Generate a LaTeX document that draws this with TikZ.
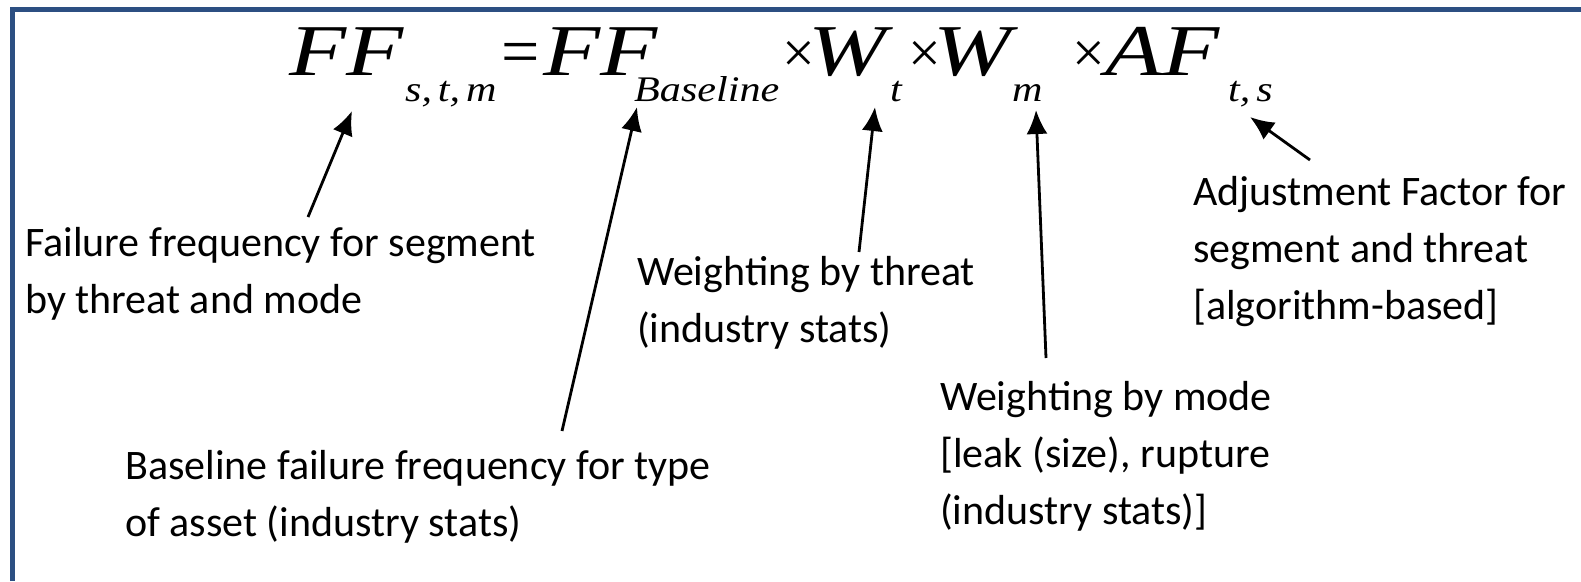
\documentclass[tikz,border=0pt]{standalone}
\usepackage{fontspec}
\usepackage{graphicx}
\setmainfont{Carlito}
\newfontfamily\eqfont{Liberation Serif}
\usetikzlibrary{arrows.meta}
\definecolor{framecol}{RGB}{44,79,130}
\newcommand{\bigit}[1]{\scalebox{1.28}[1]{#1}}
\newcommand{\subit}[1]{\scalebox{1.17}[1]{#1}}
\begin{document}
\begin{tikzpicture}[x=1pt,y=-1pt,
  lbl/.style={anchor=base west, inner sep=0pt, align=left, font=\fontsize{42}{57}\selectfont},
  eqbig/.style={anchor=base west, inner sep=0pt, font=\eqfont\itshape\fontsize{73}{73}\selectfont},
  eqsub/.style={anchor=base west, inner sep=0pt, font=\eqfont\itshape\fontsize{36}{36}\selectfont},
  eqop/.style={anchor=base west, inner sep=0pt, font=\eqfont\fontsize{68}{68}\selectfont},
  eqtimes/.style={anchor=base west, inner sep=0pt, font=\eqfont\fontsize{58}{58}\selectfont},
  ptr/.style={line width=2.8pt, -{Latex[length=24pt,width=21pt]}},
]
\useasboundingbox (0,0) rectangle (1581,581);
\fill[white] (0,0) rectangle (1581,581);
\draw[framecol, line width=5pt] (12.5,581) -- (12.5,9) -- (1581,9);
% equation
\node[eqbig] (ff1) at (289,75) {\bigit{FF}};
\node[eqsub] (s1) at (405,101) {\subit{s,\hspace{5pt}t,\hspace{5pt}m}};
\node[eqop] (eq) at (501,74) {=};
\node[eqbig] (ff2) at (543,75) {\bigit{FF}};
\node[eqsub] (s2) at (634,101) {\subit{Baseline}};
\node[eqtimes] (x1) at (782,72) {×};
\node[eqbig] (w1) at (808,75) {\bigit{W}};
\node[eqsub] (s3) at (890,101) {\subit{t}};
\node[eqtimes] (x2) at (908,72) {×};
\node[eqbig] (w2) at (933,75) {\bigit{W}};
\node[eqsub] (s4) at (1012,101) {\subit{m}};
\node[eqtimes] (x3) at (1072,72) {×};
\node[eqbig] (af) at (1105,75) {\bigit{AF}};
\node[eqsub] (s5) at (1228,101) {\subit{t,\hspace{5pt}s}};
% labels (anchor = baseline of last line)
\node[lbl] (l1) at (25,313) {Failure frequency for segment\\by threat and mode};
\node[lbl] (l2) at (125,536) {Baseline failure frequency for type\\of asset (industry stats)};
\node[lbl] (l3) at (637,342) {Weighting by threat\\(industry stats)};
\node[lbl] (l4) at (940,524) {Weighting by mode\\{[}leak (size), rupture\\(industry stats)]};
\node[lbl] (l5) at (1193,319) {Adjustment Factor for\\segment and threat\\{[}algorithm-based]};
% arrows
\coordinate (a1t) at (308,217); \coordinate (a1h) at (352,111);
\coordinate (a2t) at (562,431); \coordinate (a2h) at (637,107);
\coordinate (a3t) at (859,252); \coordinate (a3h) at (875,107);
\coordinate (a4t) at (1046,358); \coordinate (a4h) at (1036,110);
\coordinate (a5t) at (1310,160); \coordinate (a5h) at (1250,117);
\draw[ptr] (a1t) -- (a1h);
\draw[ptr] (a2t) -- (a2h);
\draw[ptr] (a3t) -- (a3h);
\draw[ptr] (a4t) -- (a4h);
\draw[ptr] (a5t) -- (a5h);
\end{tikzpicture}
\end{document}
